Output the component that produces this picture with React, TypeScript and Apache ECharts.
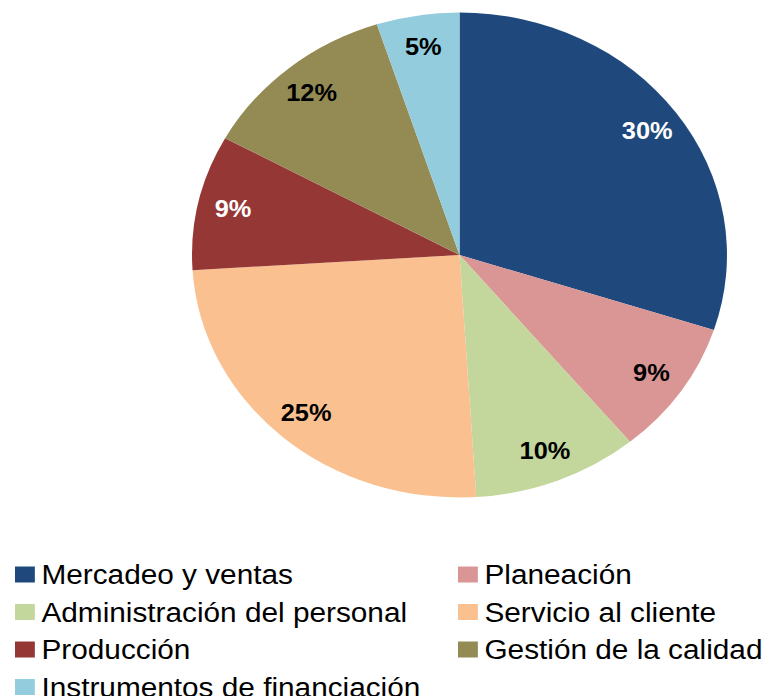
import React, { useEffect, useRef } from "react";
import * as echarts from "echarts";

const categories = [
  "Mercadeo y ventas",
  "Planeación",
  "Administración del personal",
  "Servicio al cliente",
  "Producción",
  "Gestión de la calidad",
  "Instrumentos de financiación",
];
const values = [30, 9, 10, 25, 9, 12, 5];
const colors = ["#1F497D", "#D99694", "#C3D69B", "#FAC090", "#953735", "#948A54", "#93CDDD"];
const labelColors = ["#FFFFFF", "#000000", "#000000", "#000000", "#FFFFFF", "#000000", "#000000"];
const legendLeftColumn = [categories[0], categories[2], categories[4], categories[6]];
const legendRightColumn = [categories[1], categories[3], categories[5]];

const SX = 1.103;
const W = 766 / SX;
const H = 696;

export default function App() {
  const ref = useRef<HTMLDivElement>(null);
  useEffect(() => {
    if (!ref.current) return;
    const chart = echarts.init(ref.current, undefined, { renderer: "svg" });
    const R = 242.5;
    const center = [459.5 / SX, 255];
    const legendCommon = {
      orient: "vertical",
      top: 561,
      height: 220,
      padding: 0,
      itemWidth: 18,
      itemHeight: 16,
      itemGap: 10.5,
      icon: "rect",
      selectedMode: false,
      textStyle: {
        fontFamily: "Liberation Sans",
        fontSize: 27,
        lineHeight: 26,
        color: "#000000",
        padding: [0, 0, 0, 1],
      },
    };
    chart.setOption({
      animation: false,
      legend: [
        { ...legendCommon, left: 15 / SX, data: legendLeftColumn },
        { ...legendCommon, left: 458 / SX, data: legendRightColumn },
      ],
      series: [
        {
          type: "pie",
          name: "main",
          center,
          radius: [0, R],
          startAngle: 90,
          clockwise: true,
          silent: true,
          label: { show: false },
          labelLine: { show: false },
          itemStyle: { borderWidth: 0 },
          data: categories.map((name, i) => ({
            name,
            value: values[i],
            itemStyle: { color: colors[i] },
          })),
        },
        {
          type: "pie",
          name: "labels",
          center,
          radius: [R * 0.71, R],
          startAngle: 90,
          clockwise: true,
          silent: true,
          legendHoverLink: false,
          labelLine: { show: false },
          itemStyle: { color: "rgba(0,0,0,0)", borderWidth: 0 },
          label: {
            show: true,
            position: "inside",
            formatter: (p: any) => `${p.value}%`,
            fontFamily: "Liberation Sans",
            fontWeight: "bold",
            fontSize: 23,
          },
          data: categories.map((name, i) => ({
            name,
            value: values[i],
            label: { color: labelColors[i] },
          })),
        },
      ],
    });
    return () => chart.dispose();
  }, []);
  return (
    <div
      ref={ref}
      style={{
        position: "fixed",
        left: 0,
        top: 0,
        width: W,
        height: H,
        transform: `scaleX(${SX})`,
        transformOrigin: "0 0",
        background: "#FFFFFF",
      }}
    />
  );
}
